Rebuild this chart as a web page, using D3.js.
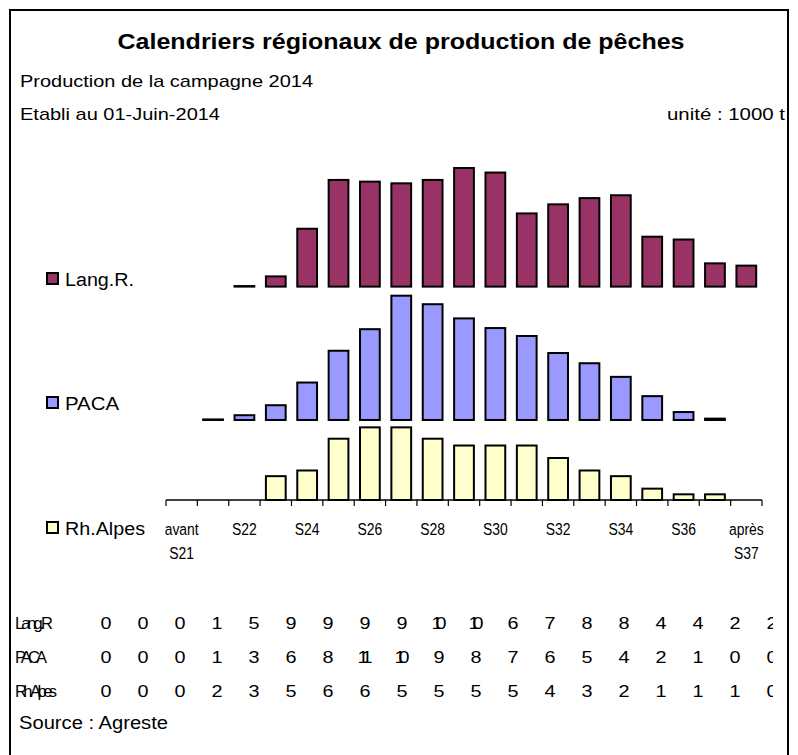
<!DOCTYPE html>
<html>
<head>
<meta charset="utf-8">
<script src="https://cdn.jsdelivr.net/npm/d3@7"></script>
<style>
  body { margin: 0; background: #fff; }
  text { font-family: "Liberation Sans", Arial, sans-serif; fill: #000; }
</style>
</head>
<body>
<div id="chart"></div>
<script>
// weeks of the campaign
const categories = ["avant S21", "S21", "S22", "S23", "S24", "S25", "S26", "S27", "S28", "S29",
    "S30", "S31", "S32", "S33", "S34", "S35", "S36", "S37", "après S37"];

// production per week, 1000 t
const langR   = [0, 0, 0.05, 0.9, 5.1, 9.4, 9.25, 9.1, 9.4, 10.45, 10.05, 6.45, 7.25, 7.8, 8.05, 4.4, 4.15, 2.05, 1.85];
const paca    = [0, 0.05, 0.42, 1.3, 3.3, 6.1, 8.0, 10.95, 10.2, 8.95, 8.1, 7.4, 5.9, 5.0, 3.8, 2.1, 0.7, 0.12, 0];
const rhAlpes = [0, 0, 0, 2.1, 2.6, 5.4, 6.4, 6.4, 5.4, 4.8, 4.8, 4.8, 3.7, 2.6, 2.1, 1.0, 0.5, 0.5, 0];

// data table under the chart (rounded values as printed)
const tableLabels = ["Lang.R", "PACA", "Rh.Alpes"];
const langTable = [0, 0, 0, 1, 5, 9, 9, 9, 9, 10, 10, 6, 7, 8, 8, 4, 4, 2, 2];
const pacaTable = [0, 0, 0, 1, 3, 6, 8, 11, 10, 9, 8, 7, 6, 5, 4, 2, 1, 0, 0];
const rhTable   = [0, 0, 0, 2, 3, 5, 6, 6, 5, 5, 5, 5, 4, 3, 2, 1, 1, 1, 0];

function main() {
    const svg = d3.select("#chart").append("svg")
        .attr("width", 798)
        .attr("height", 755);

    // stretch/squeeze a text to the width it has in the picture
    function fit(sel, w, mode) {
        sel.attr("textLength", w).attr("lengthAdjust", mode || "spacingAndGlyphs");
    }

    svg.append("rect")
        .attr("x", 10).attr("y", 10)
        .attr("width", 778).attr("height", 780)
        .attr("fill", "none")
        .attr("stroke", "#000")
        .attr("stroke-width", 2);

    svg.append("text")
        .attr("x", 401).attr("y", 49)
        .attr("text-anchor", "middle")
        .attr("font-size", "22px")
        .attr("font-weight", "bold")
        .text("Calendriers régionaux de production de pêches")
        .call(fit, 567);

    svg.append("text")
        .attr("x", 20).attr("y", 87)
        .attr("font-size", "17px")
        .text("Production de la campagne 2014")
        .call(fit, 293);

    svg.append("text")
        .attr("x", 20).attr("y", 120)
        .attr("font-size", "17px")
        .text("Etabli au 01-Juin-2014")
        .call(fit, 200);

    svg.append("text")
        .attr("x", 667).attr("y", 120)
        .attr("font-size", "17px")
        .text("unité : 1000 t")
        .call(fit, 118);

    // scales
    const x = d3.scaleBand()
        .domain(categories)
        .range([166, 762])
        .paddingInner(0.37)
        .paddingOuter(0.185);

    const y = d3.scaleLinear()
        .domain([0, 30])
        .range([500, 500 - 30 * 11.35]);

    const series = [
        { name: "Lang.R.", values: langR, base: 18.8, color: "#993366", legendY: 286, legendW: 69 },
        { name: "PACA", values: paca, base: 7.05, color: "#9999FF", legendY: 410, legendW: 54 },
        { name: "Rh.Alpes", values: rhAlpes, base: 0, color: "#FFFFCC", legendY: 535, legendW: 80 }
    ];

    // bars
    series.forEach(function (s) {
        const data = s.values.map((v, i) => ({ cat: categories[i], v: v })).filter(d => d.v > 0);
        svg.append("g").selectAll("rect")
            .data(data)
            .join("rect")
            .attr("x", d => x(d.cat))
            .attr("y", d => y(s.base + d.v))
            .attr("width", x.bandwidth())
            .attr("height", d => y(s.base) - y(s.base + d.v))
            .attr("fill", s.color)
            .attr("stroke", "#000")
            .attr("stroke-width", 2);
    });

    // x axis (ticks between categories)
    const axis = svg.append("g");
    const x0 = x.range()[0];
    axis.append("line")
        .attr("x1", x0).attr("x2", x.range()[1])
        .attr("y1", y(0)).attr("y2", y(0))
        .attr("stroke", "#000").attr("stroke-width", 1.5);
    axis.selectAll(".tick")
        .data(d3.range(categories.length + 1))
        .join("line")
        .attr("class", "tick")
        .attr("x1", i => x0 + i * x.step()).attr("x2", i => x0 + i * x.step())
        .attr("y1", y(0)).attr("y2", y(0) + 6)
        .attr("stroke", "#000").attr("stroke-width", 1.2);

    const labels = axis.selectAll(".lab")
        .data(categories.filter((d, i) => i % 2 === 0))
        .join("g")
        .attr("class", "lab")
        .attr("transform", d => "translate(" + (x(d) + x.bandwidth() / 2) + ",535) scale(0.82,1)");
    labels.selectAll("text")
        .data(d => d.split(" "))
        .join("text")
        .attr("y", (d, i) => i * 24)
        .attr("text-anchor", "middle")
        .attr("font-size", "17px")
        .text(d => d);

    // legend
    series.forEach(function (s) {
        svg.append("rect")
            .attr("x", 47).attr("y", s.legendY - 13)
            .attr("width", 11).attr("height", 11)
            .attr("fill", s.color)
            .attr("stroke", "#000")
            .attr("stroke-width", 2);
        svg.append("text")
            .attr("x", 65).attr("y", s.legendY)
            .attr("font-size", "18px")
            .text(s.name)
            .call(fit, s.legendW);
    });

    // data table, cut at the right like the original
    svg.append("clipPath").attr("id", "tclip")
        .append("rect").attr("x", 0).attr("y", 590).attr("width", 773).attr("height", 120);

    const table = svg.append("g").attr("clip-path", "url(#tclip)");
    const col = d3.scalePoint().domain(d3.range(categories.length)).range([106, 772]);
    const rows = [langTable, pacaTable, rhTable];
    const rowY = [629, 663, 697];
    const labelW = [38, 32, 42];

    rows.forEach(function (r, k) {
        table.append("text")
            .attr("x", 15).attr("y", rowY[k])
            .attr("font-size", "16.5px")
            .text(tableLabels[k])
            .call(fit, labelW[k], "spacing");
        // the exported table prints its digits a little wide
        table.selectAll(".v" + k)
            .data(r)
            .join("g")
            .attr("class", "v" + k)
            .attr("transform", (d, i) => "translate(" + col(i) + "," + rowY[k] + ") scale(1.2,1)")
            .append("text")
            .attr("text-anchor", "middle")
            .attr("font-size", "16.5px")
            .text(d => d)
            .each(function (d) {
                if (String(d).length > 1) d3.select(this).call(fit, 12.5, "spacing");
            });
    });

    svg.append("text")
        .attr("x", 19).attr("y", 729)
        .attr("font-size", "18px")
        .text("Source : Agreste")
        .call(fit, 149);
}
main();
</script>
</body>
</html>
